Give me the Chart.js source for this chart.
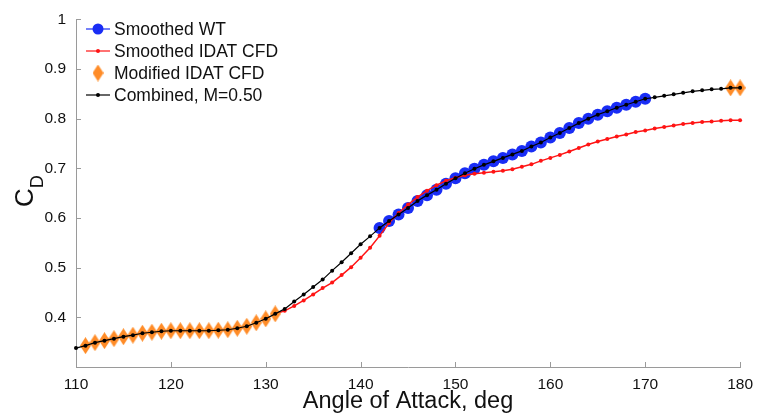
<!DOCTYPE html>
<html>
<head>
<meta charset="utf-8">
<title>Drag coefficient vs angle of attack</title>
<script src="https://cdn.jsdelivr.net/npm/chart.js@4.4.1/dist/chart.umd.min.js"></script>
<style>
  html, body { margin: 0; padding: 0; background: #fff; }
  #wrap { width: 761px; height: 416px; }
</style>
</head>
<body>
<div id="wrap"><canvas id="cdChart" width="761" height="416"></canvas></div>
<script>
// Smoothed wind tunnel data
const anglesWT = [142, 143, 144, 145, 146, 147, 148, 149, 150, 151, 152, 153, 154, 155, 156,
  157, 158, 159, 160, 161, 162, 163, 164, 165, 166, 167, 168, 169, 170];
const valuesWT = [0.580, 0.594, 0.607, 0.620, 0.634, 0.646, 0.657, 0.669, 0.680, 0.690, 0.699,
  0.707, 0.714, 0.721, 0.728, 0.735, 0.744, 0.752, 0.762, 0.771, 0.781, 0.791, 0.800, 0.808,
  0.815, 0.822, 0.828, 0.834, 0.840];

// Smoothed IDAT CFD
const anglesCFD = [131, 132, 133, 134, 135, 136, 137, 138, 139, 140, 141, 142, 143, 144, 145,
  146, 147, 148, 149, 150, 151, 152, 153, 154, 155, 156, 157, 158, 159, 160, 161, 162, 163,
  164, 165, 166, 167, 168, 169, 170, 171, 172, 173, 174, 175, 176, 177, 178, 179, 180];
const valuesCFD = [0.407, 0.413, 0.423, 0.434, 0.446, 0.459, 0.470, 0.485, 0.501, 0.520, 0.540,
  0.564, 0.590, 0.610, 0.627, 0.642, 0.655, 0.666, 0.675, 0.681, 0.686, 0.689, 0.691, 0.693,
  0.695, 0.698, 0.703, 0.708, 0.715, 0.721, 0.727, 0.734, 0.741, 0.748, 0.754, 0.759, 0.764,
  0.768, 0.773, 0.776, 0.780, 0.783, 0.786, 0.789, 0.791, 0.793, 0.794, 0.796, 0.797, 0.797];

// Modified IDAT CFD
const anglesModified = [111, 112, 113, 114, 115, 116, 117, 118, 119, 120, 121, 122, 123, 124,
  125, 126, 127, 128, 129, 130, 131, 179, 180];
const valuesModified = [0.343, 0.349, 0.353, 0.357, 0.361, 0.364, 0.368, 0.370, 0.372, 0.373,
  0.373, 0.373, 0.373, 0.373, 0.374, 0.375, 0.378, 0.382, 0.389, 0.397, 0.407, 0.862, 0.862];

// Combined, M=0.50
const anglesCombined = [110, 111, 112, 113, 114, 115, 116, 117, 118, 119, 120, 121, 122, 123,
  124, 125, 126, 127, 128, 129, 130, 131, 132, 133, 134, 135, 136, 137, 138, 139, 140, 141,
  142, 143, 144, 145, 146, 147, 148, 149, 150, 151, 152, 153, 154, 155, 156, 157, 158, 159,
  160, 161, 162, 163, 164, 165, 166, 167, 168, 169, 170, 171, 172, 173, 174, 175, 176, 177,
  178, 179, 180];
const valuesCombined = [0.338, 0.343, 0.349, 0.353, 0.357, 0.361, 0.364, 0.368, 0.370, 0.372,
  0.373, 0.373, 0.373, 0.373, 0.373, 0.374, 0.375, 0.378, 0.382, 0.389, 0.397, 0.407, 0.417,
  0.432, 0.446, 0.461, 0.476, 0.494, 0.511, 0.529, 0.547, 0.563, 0.580, 0.594, 0.607, 0.620,
  0.634, 0.646, 0.657, 0.669, 0.680, 0.690, 0.699, 0.707, 0.714, 0.721, 0.728, 0.735, 0.744,
  0.752, 0.762, 0.771, 0.781, 0.791, 0.800, 0.808, 0.815, 0.822, 0.828, 0.834, 0.840, 0.843,
  0.846, 0.849, 0.852, 0.855, 0.857, 0.859, 0.860, 0.862, 0.862];

const xTicks = [110, 120, 130, 140, 150, 160, 170, 180];
const yTicks = [0.4, 0.5, 0.6, 0.7, 0.8, 0.9, 1];

const FONT = '"Liberation Sans", Arial, Helvetica, sans-serif';
const BLUE = 'rgb(25, 45, 245)';
const RED = 'rgb(255, 20, 20)';
const ORANGE = 'rgb(255, 140, 40)';
const AXIS = '#9a9a9a';

function toPoints(xs, ys) {
  return xs.map((x, i) => ({ x: x, y: ys[i] }));
}

// tall diamond marker like the MATLAB 'd' marker
function makeDiamond(w, h, color) {
  const c = document.createElement('canvas');
  c.width = w;
  c.height = h;
  const g = c.getContext('2d');
  g.fillStyle = color;
  g.beginPath();
  g.moveTo(w / 2, 0);
  g.lineTo(w, h / 2);
  g.lineTo(w / 2, h);
  g.lineTo(0, h / 2);
  g.closePath();
  g.fill();
  return c;
}
const diamond = makeDiamond(11, 17, ORANGE);

// inward tick marks, axis titles and the legend
const decorPlugin = {
  id: 'decor',
  afterDraw(chart) {
    const ctx = chart.ctx;
    const xs = chart.scales.x;
    const ys = chart.scales.y;
    const area = chart.chartArea;

    ctx.save();
    ctx.strokeStyle = AXIS;
    ctx.lineWidth = 1;
    ctx.beginPath();
    xTicks.forEach(v => {
      const px = Math.round(xs.getPixelForValue(v)) + 0.5;
      ctx.moveTo(px, area.bottom);
      ctx.lineTo(px, area.bottom - 5);
    });
    yTicks.forEach(v => {
      const py = Math.round(ys.getPixelForValue(v)) + 0.5;
      ctx.moveTo(area.left, py);
      ctx.lineTo(area.left + 5, py);
    });
    ctx.stroke();

    // x title
    ctx.fillStyle = '#111';
    ctx.font = '23.5px ' + FONT;
    ctx.textAlign = 'center';
    ctx.textBaseline = 'alphabetic';
    ctx.fillText('Angle of Attack, deg', (area.left + area.right) / 2, 408);

    // y title C_D
    ctx.save();
    ctx.translate(33, 207);
    ctx.rotate(-Math.PI / 2);
    ctx.textAlign = 'left';
    ctx.font = '26px ' + FONT;
    ctx.fillText('C', 0, 0);
    const cw = ctx.measureText('C').width;
    ctx.font = '18px ' + FONT;
    ctx.fillText('D', cw, 10);
    ctx.restore();

    // legend
    const rows = [
      { label: 'Smoothed WT', color: BLUE, line: true, marker: 'circle' },
      { label: 'Smoothed IDAT CFD', color: RED, line: true, marker: 'dot' },
      { label: 'Modified IDAT CFD', color: ORANGE, line: false, marker: 'diamond' },
      { label: 'Combined, M=0.50', color: '#000', line: true, marker: 'dot' }
    ];
    ctx.font = '17.5px ' + FONT;
    ctx.textAlign = 'left';
    rows.forEach((r, i) => {
      const cy = 29 + i * 22;
      if (r.line) {
        ctx.strokeStyle = r.color;
        ctx.lineWidth = 1.2;
        ctx.beginPath();
        ctx.moveTo(86, cy);
        ctx.lineTo(110, cy);
        ctx.stroke();
      }
      ctx.fillStyle = r.color;
      if (r.marker === 'circle') {
        ctx.beginPath();
        ctx.arc(98, cy, 5.5, 0, Math.PI * 2);
        ctx.fill();
      } else if (r.marker === 'dot') {
        ctx.beginPath();
        ctx.arc(98, cy, 2, 0, Math.PI * 2);
        ctx.fill();
      } else {
        ctx.drawImage(diamond, 98 - diamond.width / 2, cy - diamond.height / 2);
      }
      ctx.fillStyle = '#111';
      ctx.fillText(r.label, 114, cy + 6);
    });
    ctx.restore();
  }
};

function tickText(v) {
  return String(Number(v.toFixed(1)));
}

const ctx = document.getElementById('cdChart').getContext('2d');
new Chart(ctx, {
  type: 'line',
  data: {
    datasets: [
      {
        label: 'Smoothed WT',
        data: toPoints(anglesWT, valuesWT),
        borderColor: BLUE,
        borderWidth: 1,
        pointRadius: 6,
        pointBackgroundColor: BLUE,
        pointBorderWidth: 0,
        order: 4
      },
      {
        label: 'Smoothed IDAT CFD',
        data: toPoints(anglesCFD, valuesCFD),
        borderColor: RED,
        borderWidth: 1.5,
        pointRadius: 2,
        pointBackgroundColor: RED,
        pointBorderWidth: 0,
        order: 3
      },
      {
        label: 'Modified IDAT CFD',
        data: toPoints(anglesModified, valuesModified),
        showLine: false,
        pointStyle: diamond,
        pointRadius: 7,
        pointBackgroundColor: ORANGE,
        pointBorderWidth: 0,
        order: 2
      },
      {
        label: 'Combined, M=0.50',
        data: toPoints(anglesCombined, valuesCombined),
        borderColor: '#000',
        borderWidth: 1.2,
        pointRadius: 2,
        pointBackgroundColor: '#000',
        pointBorderWidth: 0,
        order: 1
      }
    ]
  },
  options: {
    responsive: false,
    animation: false,
    clip: false,
    tension: 0,
    layout: { padding: { top: 12, right: 14, left: 0, bottom: 0 } },
    plugins: {
      legend: { display: false },
      tooltip: { enabled: false }
    },
    scales: {
      x: {
        type: 'linear',
        min: 110,
        max: 180,
        grid: { display: false, drawTicks: false },
        border: { display: true, color: AXIS, width: 1 },
        afterBuildTicks: s => { s.ticks = xTicks.map(v => ({ value: v })); },
        afterFit: s => { s.height = 49; },
        ticks: {
          color: '#111',
          font: { family: FONT, size: 15.5 },
          padding: 8,
          maxRotation: 0,
          callback: v => String(v)
        }
      },
      y: {
        type: 'linear',
        min: 0.3,
        max: 1,
        grid: { display: false, drawTicks: false },
        border: { display: true, color: AXIS, width: 1 },
        afterBuildTicks: s => { s.ticks = yTicks.map(v => ({ value: v })); },
        afterFit: s => { s.width = 76; },
        ticks: {
          color: '#111',
          font: { family: FONT, size: 15.5 },
          padding: 10,
          callback: v => tickText(v)
        }
      }
    }
  },
  plugins: [decorPlugin]
});
</script>
</body>
</html>
